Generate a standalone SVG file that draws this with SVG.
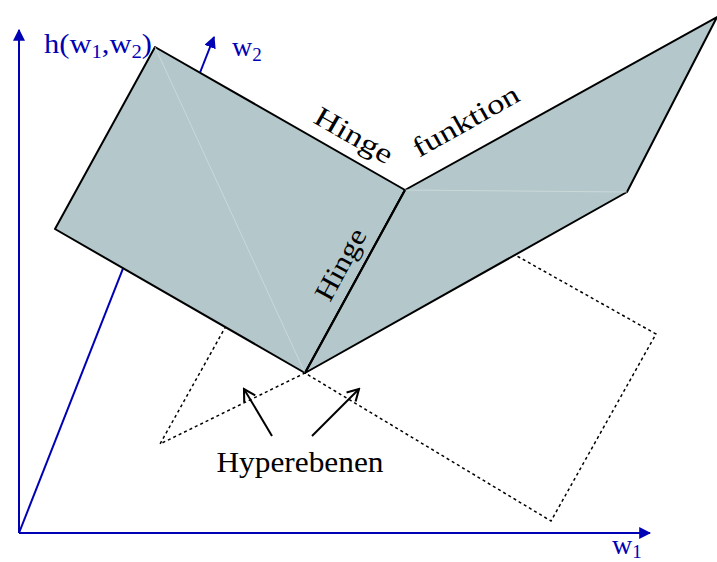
<svg xmlns="http://www.w3.org/2000/svg" width="717" height="562" viewBox="0 0 717 562">
<style>
.ax{stroke:#0000b4;stroke-width:2;fill:none}
.bl{fill:#0000b4;font-family:"Liberation Serif",serif}
.pl{fill:#b4c8cb;stroke:#000;stroke-width:2;stroke-linejoin:round}
.fa{stroke:#d0dcdd;stroke-width:0.8;fill:none}
.dt{stroke:#000;stroke-width:1.5;stroke-dasharray:3,3;fill:none}
.ar{stroke:#000;stroke-width:2;fill:none}
.tx{fill:#000;font-family:"Liberation Serif",serif}
</style>
<defs>
<marker id="ba" viewBox="0 0 10 10" refX="9" refY="5" markerWidth="12" markerHeight="12" markerUnits="userSpaceOnUse" orient="auto">
<path d="M0,0 L10,5 L0,10 z" fill="#0000b4"/>
</marker>
<marker id="oa" viewBox="0 0 10 10" refX="9" refY="5" markerWidth="16" markerHeight="16" markerUnits="userSpaceOnUse" orient="auto">
<path d="M2,1 L9,5 L2,9" fill="none" stroke="#000" stroke-width="1.3"/>
</marker>
</defs>
<g id="axes">
<line class="ax" x1="19" y1="533" x2="19" y2="30" marker-end="url(#ba)"/>
<line class="ax" x1="19" y1="533" x2="650" y2="533" marker-end="url(#ba)"/>
<line class="ax" x1="19" y1="533" x2="214" y2="37" marker-end="url(#ba)"/>
<text class="bl" x="44" y="53" font-size="28" textLength="108" lengthAdjust="spacingAndGlyphs">h(w<tspan font-size="19" dy="5">1</tspan><tspan dy="-5">,w</tspan><tspan font-size="19" dy="5">2</tspan><tspan dy="-5">)</tspan></text>
<text class="bl" x="232" y="56" font-size="28">w<tspan font-size="19" dy="5">2</tspan></text>
<text class="bl" x="612" y="554" font-size="28">w<tspan font-size="19" dy="4">1</tspan></text>
</g>
<g id="hyperplanes">
<polyline class="dt" points="226,326 160,444 305,373 551,521 656,334 517,256"/>
</g>
<g id="surface">
<polygon class="pl" points="155,47 55,229 305,373 405,190"/>
<polygon class="pl" points="405,190 717,17 627,192 305,373"/>
<line class="fa" x1="155" y1="47" x2="305" y2="373"/>
<line class="fa" x1="405" y1="190" x2="627" y2="192"/>
<line x1="405" y1="190" x2="305" y2="373" stroke="#000" stroke-width="2"/>
</g>
<g id="labels">
<text class="tx" font-size="28" transform="translate(312,122) rotate(29.8)" textLength="86" lengthAdjust="spacingAndGlyphs">Hinge</text>
<text class="tx" font-size="28" transform="translate(419,158) rotate(-29.5)" textLength="118" lengthAdjust="spacingAndGlyphs">funktion</text>
<text class="tx" font-size="28" transform="translate(330,303) rotate(-61.3)" textLength="78" lengthAdjust="spacingAndGlyphs">Hinge</text>
</g>
<g id="connectors">
<line class="ar" x1="272" y1="436" x2="244" y2="389" marker-end="url(#oa)"/>
<line class="ar" x1="312" y1="436" x2="359" y2="389" marker-end="url(#oa)"/>
</g>
<g id="hyperlabel">
<text class="tx" x="300" y="472" font-size="30" text-anchor="middle" textLength="167" lengthAdjust="spacingAndGlyphs">Hyperebenen</text>
</g>
</svg>
